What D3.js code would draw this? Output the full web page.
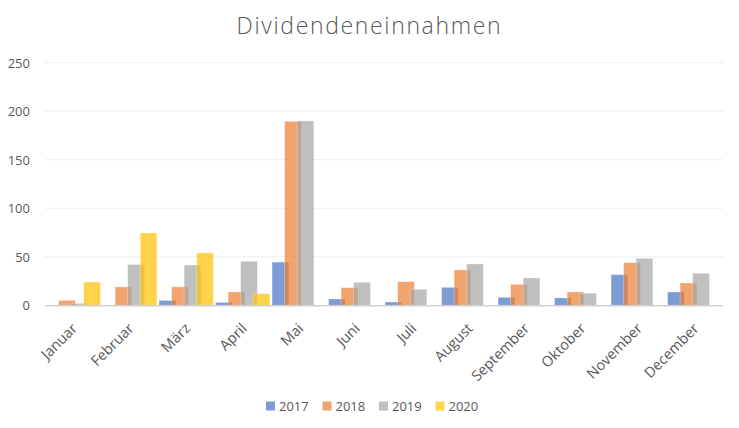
<!DOCTYPE html>
<html>
<head>
<meta charset="utf-8">
<script src="https://cdn.jsdelivr.net/npm/d3@7"></script>
<style>
  html, body { margin: 0; padding: 0; background: #fff; }
  svg { display: block; font-family: "Open Sans", sans-serif; }
</style>
</head>
<body>
<svg id="chart" width="739" height="428"></svg>
<script>
const categories = ["Januar","Februar","März","April","Mai","Juni","Juli","August","September","Oktober","November","December"];
const seriesNames = ["2017","2018","2019","2020"];
const v2017 = [0, 0, 5, 3, 44.5, 6.5, 3.4, 18.5, 8.2, 7.6, 31.6, 13.7];
const v2018 = [5, 19, 19, 13.7, 189.5, 18.2, 24.4, 36.4, 21.6, 13.7, 44, 23];
const v2019 = [2, 42, 41.5, 45.3, 190, 23.7, 16.5, 42.6, 28.2, 12.4, 48.4, 33];
const v2020 = [24, 74.5, 54, 12, 0, 0, 0, 0, 0, 0, 0, 0];
const colors = ["#4472C4", "#ED7D31", "#A5A5A5", "#FFC000"];
const yTicks = [0, 50, 100, 150, 200, 250];
const title = "Dividendeneinnahmen";

const seriesValues = [v2017, v2018, v2019, v2020];
const svg = d3.select("#chart");
const margin = {left: 45, right: 16, top: 62.7, bottom: 122.7};
const W = 739, H = 428;
const x0 = margin.left, x1 = W - margin.right;
const yTop = margin.top, yBot = H - margin.bottom;

const x = d3.scaleBand().domain(categories).range([x0, x1]).paddingInner(0).paddingOuter(0);
const y = d3.scaleLinear().domain([0, 250]).range([yBot, yTop]);

// Title
svg.append("text").attr("x", 368.5).attr("y", 34).attr("text-anchor", "middle")
  .attr("font-size", 23).attr("font-weight", 300).attr("fill", "#595959")
  .attr("textLength", 264).attr("lengthAdjust", "spacing").text(title);

// Gridlines
svg.append("g").selectAll("line").data(yTicks.filter(d => d > 0)).join("line")
  .attr("x1", x0).attr("x2", x1).attr("y1", d => y(d)).attr("y2", d => y(d))
  .attr("stroke", "#efefef").attr("stroke-width", 1);

// Y axis labels
const yAxis = d3.axisLeft(y).tickValues(yTicks).tickSize(0).tickPadding(0);
const gy = svg.append("g").attr("transform", `translate(${30},0)`).call(yAxis);
gy.select(".domain").remove();
gy.selectAll("text").attr("font-size", 13).attr("fill", "#595959").attr("font-family", "'Open Sans', sans-serif").attr("dy", "0.35em");

// Bars
const bw = x.bandwidth();
const barW = bw * 0.296;
const step = barW * 0.75;
const groupW = step * 3 + barW;
const off = (bw - groupW) / 2;
const sub = d3.scaleBand().domain(seriesNames).range([0, step * 4]).padding(0);

seriesNames.forEach((s, si) => {
  svg.append("g").selectAll("rect").data(categories.map((c, i) => ({c, v: seriesValues[si][i]})).filter(d => d.v > 0)).join("rect")
    .attr("x", d => x(d.c) + off + sub(s))
    .attr("y", d => y(d.v))
    .attr("width", barW)
    .attr("height", d => y(0) - y(d.v))
    .attr("fill", colors[si]).attr("fill-opacity", 0.7)
    .attr("stroke", "#ffffff").attr("stroke-opacity", 0.35).attr("stroke-width", 0.8);
});

// X axis line
svg.append("line").attr("x1", x0).attr("x2", x1).attr("y1", y(0) + 0.5).attr("y2", y(0) + 0.5)
  .attr("stroke", "#d0d0d0").attr("stroke-width", 1.5);

// X labels
const xAxis = d3.axisBottom(x).tickSize(0).tickPadding(0);
const gx = svg.append("g").attr("transform", `translate(0,${y(0)})`).call(xAxis);
gx.select(".domain").remove();
gx.selectAll("text")
  .attr("font-size", 14.5).attr("fill", "#595959").attr("font-family", "'Open Sans', sans-serif")
  .attr("text-anchor", "end").attr("dy", 0).attr("y", 0)
  .attr("transform", "translate(5,24) rotate(-45)");

// Legend
const legendItemW = [56.5, 56.5, 56.5, 45];
const legend = svg.append("g").attr("transform", "translate(266,406)");
let lx = 0;
seriesNames.forEach((s, i) => {
  const g = legend.append("g").attr("transform", `translate(${lx},0)`);
  g.append("rect").attr("x", 0).attr("y", -4.5).attr("width", 9).attr("height", 9)
    .attr("fill", colors[i]).attr("fill-opacity", 0.7);
  g.append("text").attr("x", 13).attr("y", 0).attr("dy", "0.35em")
    .attr("font-size", 13).attr("fill", "#595959").text(s);
  lx += legendItemW[i];
});
</script>
</body>
</html>
